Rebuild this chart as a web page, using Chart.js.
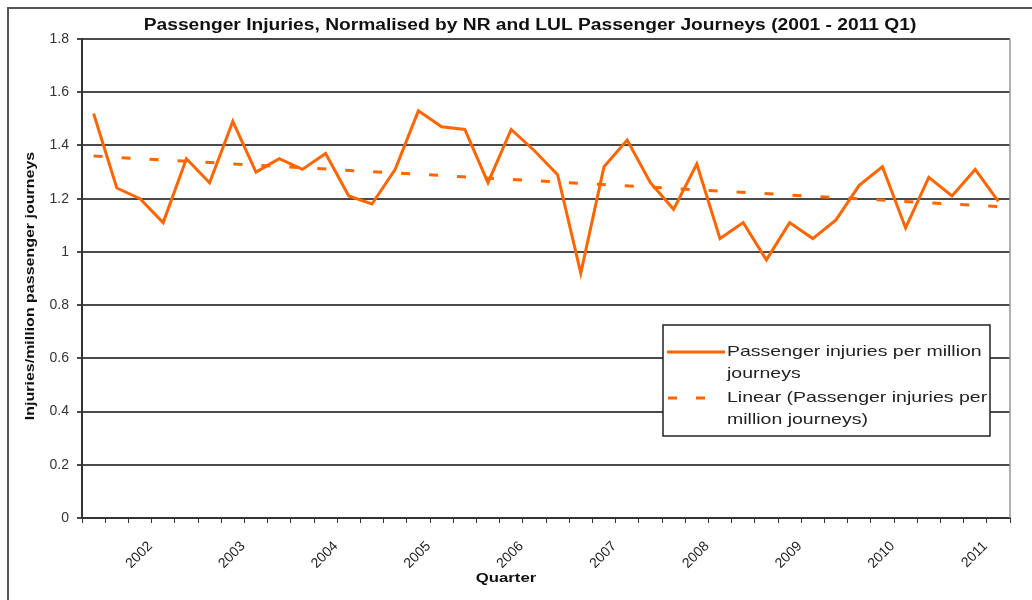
<!DOCTYPE html>
<html>
<head>
<meta charset="utf-8">
<script src="https://cdn.jsdelivr.net/npm/chart.js@4/dist/chart.umd.min.js"></script>
<style>
html,body{margin:0;padding:0;background:#fff;}
#wrap{position:relative;width:1032px;height:600px;}
</style>
</head>
<body>
<div id="wrap"><canvas id="c" width="1032" height="600"></canvas></div>
<script>
// ---- data ----
const quarters = [
  '2001 Q2','2001 Q3','2001 Q4',
  '2002 Q1','2002 Q2','2002 Q3','2002 Q4',
  '2003 Q1','2003 Q2','2003 Q3','2003 Q4',
  '2004 Q1','2004 Q2','2004 Q3','2004 Q4',
  '2005 Q1','2005 Q2','2005 Q3','2005 Q4',
  '2006 Q1','2006 Q2','2006 Q3','2006 Q4',
  '2007 Q1','2007 Q2','2007 Q3','2007 Q4',
  '2008 Q1','2008 Q2','2008 Q3','2008 Q4',
  '2009 Q1','2009 Q2','2009 Q3','2009 Q4',
  '2010 Q1','2010 Q2','2010 Q3','2010 Q4',
  '2011 Q1'
];
const injuries = [
  1.52, 1.24, 1.20, 1.11, 1.35, 1.26, 1.49, 1.30, 1.35, 1.31,
  1.37, 1.21, 1.18, 1.31, 1.53, 1.47, 1.46, 1.26, 1.46, 1.38,
  1.29, 0.92, 1.32, 1.42, 1.26, 1.16, 1.33, 1.05, 1.11, 0.97,
  1.11, 1.05, 1.12, 1.25, 1.32, 1.09, 1.28, 1.21, 1.31, 1.19
];
// linear trend line, read at its two ends
const trendEnds = [1.36, 1.17];
const yTicks = { min: 0, max: 1.8, step: 0.2 };

const seriesLabel = 'Passenger injuries per million journeys';
const trendLabel = 'Linear (Passenger injuries per million journeys)';
const legendLines = [
  ['Passenger injuries per million', 'journeys'],
  ['Linear (Passenger injuries per', 'million journeys)']
];
const chartTitle = 'Passenger Injuries, Normalised by NR and LUL Passenger Journeys (2001 - 2011 Q1)';
const xTitle = 'Quarter';
const yTitle = 'Injuries/million passenger journeys';

// ---- style ----
const ORANGE = '#FF6600';
const FONT = '"Liberation Sans", Arial, sans-serif';
const DASH = [9, 19];

function stretchText(ctx, text, x, y, sx, rot) {
  ctx.save();
  ctx.translate(x, y);
  if (rot) ctx.rotate(rot);
  ctx.scale(sx, 1);
  ctx.fillText(text, 0, 0);
  ctx.restore();
}

const decor = {
  id: 'decor',
  afterDraw(chart) {
    const ctx = chart.ctx;
    const a = chart.chartArea;
    ctx.save();
    // outer frame
    ctx.strokeStyle = '#555';
    ctx.lineWidth = 2;
    ctx.strokeRect(8, 8, 1040, 620);
    // plot right border
    ctx.strokeStyle = '#999';
    ctx.lineWidth = 1.5;
    ctx.beginPath();
    ctx.moveTo(a.right, a.top);
    ctx.lineTo(a.right, a.bottom);
    ctx.stroke();
    // title
    ctx.fillStyle = '#111';
    ctx.textAlign = 'center';
    ctx.textBaseline = 'middle';
    ctx.font = 'bold 16px ' + FONT;
    stretchText(ctx, chartTitle, 530, 26, 1.2);
    // x axis title
    ctx.font = 'bold 13px ' + FONT;
    stretchText(ctx, xTitle, 506, 578, 1.29);
    // y axis title
    ctx.font = 'bold 13px ' + FONT;
    stretchText(ctx, yTitle, 30, 286, 1.23, -Math.PI / 2);
    // legend
    const lx = 663, ly = 325, lw = 327, lh = 111;
    ctx.fillStyle = '#fff';
    ctx.fillRect(lx, ly, lw, lh);
    ctx.strokeStyle = '#222';
    ctx.lineWidth = 1.5;
    ctx.strokeRect(lx, ly, lw, lh);
    const ds = chart.data.datasets;
    const rowY = [352, 398];
    ds.forEach((d, i) => {
      ctx.strokeStyle = d.borderColor;
      ctx.lineWidth = d.borderWidth;
      ctx.setLineDash(d.borderDash || []);
      ctx.beginPath();
      ctx.moveTo(i === 0 ? 667 : 668, rowY[i]);
      ctx.lineTo(i === 0 ? 725 : 712, rowY[i]);
      ctx.stroke();
      ctx.setLineDash([]);
      ctx.fillStyle = '#222';
      ctx.textAlign = 'left';
      ctx.font = '15px ' + FONT;
      legendLines[i].forEach((t, k) => {
        stretchText(ctx, t, 727, rowY[i] + k * 22, 1.3);
      });
    });
    ctx.restore();
  }
};

new Chart(document.getElementById('c').getContext('2d'), {
  type: 'line',
  data: {
    labels: quarters,
    datasets: [
      {
        label: seriesLabel,
        data: injuries,
        borderColor: ORANGE,
        backgroundColor: ORANGE,
        borderWidth: 3,
        pointRadius: 0,
        tension: 0,
        fill: false,
        order: 1
      },
      {
        label: trendLabel,
        data: [
          { x: quarters[0], y: trendEnds[0] },
          { x: quarters[quarters.length - 1], y: trendEnds[1] }
        ],
        borderColor: ORANGE,
        backgroundColor: ORANGE,
        borderWidth: 3,
        borderDash: DASH,
        pointRadius: 0,
        fill: false,
        order: 2
      }
    ]
  },
  options: {
    responsive: false,
    animation: false,
    devicePixelRatio: 1,
    layout: { padding: { top: 39, right: 22, left: 0, bottom: 0 } },
    plugins: {
      legend: { display: false },
      title: { display: false },
      tooltip: { enabled: false }
    },
    scales: {
      x: {
        type: 'category',
        offset: true,
        grid: { offset: true, drawOnChartArea: false, drawTicks: true, tickLength: 5, color: '#333', lineWidth: 1 },
        border: { display: true, color: '#333', width: 2 },
        ticks: {
          autoSkip: false,
          maxRotation: 45,
          minRotation: 45,
          padding: 15,
          labelOffset: -13,
          color: '#222',
          font: { family: FONT, size: 14 },
          callback: function (v) {
            const q = this.getLabelForValue(v);
            return q.endsWith('Q1') ? q.slice(0, 4) : '';
          }
        },
        afterFit: s => { s.height = 82; }
      },
      y: {
        min: yTicks.min,
        max: yTicks.max,
        ticks: {
          stepSize: yTicks.step,
          padding: 8,
          color: '#333',
          font: { family: FONT, size: 14 },
          callback: v => String(+v.toFixed(1))
        },
        grid: { color: '#4a4a4a', lineWidth: 2, tickLength: 5 },
        border: { display: true, color: '#333', width: 2 },
        afterFit: s => { s.width = 82; }
      }
    }
  },
  plugins: [decor]
});
</script>
</body>
</html>
